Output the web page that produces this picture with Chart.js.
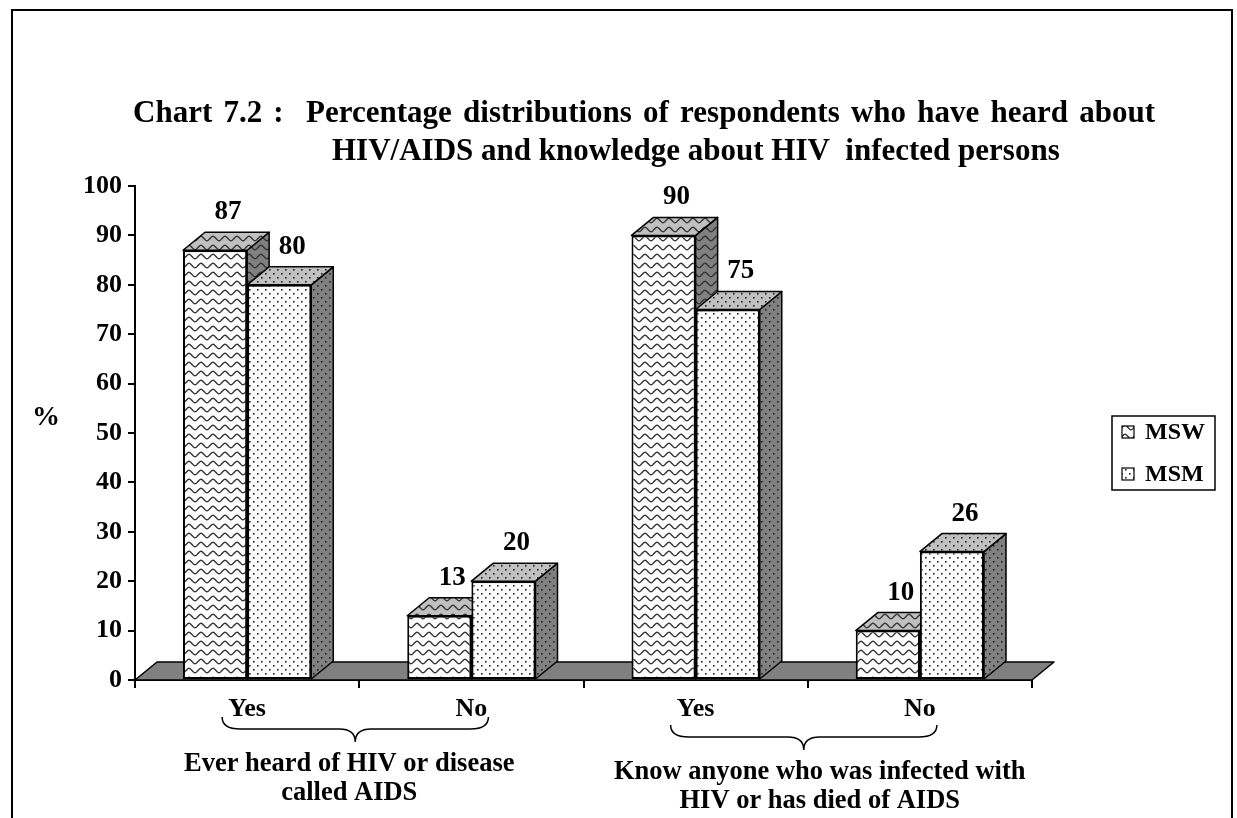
<!DOCTYPE html>
<html>
<head>
<meta charset="utf-8">
<script src="https://cdn.jsdelivr.net/npm/chart.js@4.4.0/dist/chart.umd.min.js"></script>
<style>
  html, body { margin: 0; padding: 0; background: #fff; }
</style>
</head>
<body>
<canvas id="chart" width="1237" height="818"></canvas>
<script>
// chart data
const categories = ['Yes', 'No', 'Yes', 'No'];
const seriesNames = ['MSW', 'MSM'];
const mswValues = [87, 13, 90, 10];
const msmValues = [80, 20, 75, 26];
const groupLabels = [
  ['Ever heard of HIV or disease', 'called AIDS'],
  ['Know anyone who was infected with', 'HIV or has died of AIDS']
];
const titleLine1 = 'Chart 7.2 :  Percentage distributions of respondents who have heard about';
const titleLine2 = 'HIV/AIDS and knowledge about HIV  infected persons';
const yAxisLabel = '%';

const FONT = '"Liberation Serif", "Times New Roman", serif';
const DX = 22, DY = -18;   // 3d depth offset

function makePattern(kind, bg) {
  const c = document.createElement('canvas');
  const g = c.getContext('2d');
  if (kind === 'wave') {
    c.width = 12; c.height = 9;
    g.fillStyle = bg; g.fillRect(0, 0, 12, 9);
    g.strokeStyle = '#333'; g.lineWidth = 1.4;
    g.beginPath();
    for (let x = -1; x <= 13; x += 0.5) {
      const y = 4.5 + 2.2 * Math.sin(x / 12 * Math.PI * 2);
      if (x === -1) g.moveTo(x, y); else g.lineTo(x, y);
    }
    g.stroke();
  } else {
    c.width = 8; c.height = 8;
    g.fillStyle = bg; g.fillRect(0, 0, 8, 8);
    g.fillStyle = '#222';
    g.fillRect(1, 1, 1.6, 1.6);
    g.fillRect(5, 5, 1.6, 1.6);
  }
  return g.createPattern(c, 'repeat');
}

const kinds = ['wave', 'dots'];
const frontPatterns = kinds.map(k => makePattern(k, '#fff'));
const topPatterns = kinds.map(k => makePattern(k, '#c0c0c0'));
const sidePatterns = kinds.map(k => makePattern(k, '#808080'));

function poly(ctx, pts, fill) {
  ctx.beginPath();
  pts.forEach((p, i) => i ? ctx.lineTo(p[0], p[1]) : ctx.moveTo(p[0], p[1]));
  ctx.closePath();
  ctx.fillStyle = fill;
  ctx.fill();
  ctx.stroke();
}

function brace(ctx, xL, xR, xc, yTop) {
  const yMid = yTop + 12, yTip = yTop + 25;
  ctx.beginPath();
  ctx.moveTo(xL, yTop);
  ctx.quadraticCurveTo(xL, yMid, xL + 18, yMid);
  ctx.lineTo(xc - 16, yMid);
  ctx.quadraticCurveTo(xc, yMid, xc, yTip);
  ctx.quadraticCurveTo(xc, yMid, xc + 16, yMid);
  ctx.lineTo(xR - 18, yMid);
  ctx.quadraticCurveTo(xR, yMid, xR, yTop);
  ctx.stroke();
}

const bar3d = {
  id: 'bar3d',
  beforeDatasetsDraw(chart) {
    const ctx = chart.ctx;
    const { left, right, bottom } = chart.chartArea;
    ctx.save();
    ctx.strokeStyle = '#000';
    ctx.lineWidth = 1.5;
    ctx.lineJoin = 'round';
    // floor
    poly(ctx, [[left, bottom], [right, bottom], [right + DX, bottom + DY], [left + DX, bottom + DY]], '#808080');
    // side and top faces, left series first
    const metas = chart.data.datasets.map((d, i) => chart.getDatasetMeta(i));
    for (let j = 0; j < categories.length; j++) {
      metas.forEach((meta, i) => {
        const b = meta.data[j].getProps(['x', 'y', 'base', 'width'], true);
        const x0 = b.x - b.width / 2, x1 = b.x + b.width / 2;
        poly(ctx, [[x1, b.y], [x1 + DX, b.y + DY], [x1 + DX, b.base + DY], [x1, b.base]], sidePatterns[i]);
        poly(ctx, [[x0, b.y], [x0 + DX, b.y + DY], [x1 + DX, b.y + DY], [x1, b.y]], topPatterns[i]);
      });
    }
    ctx.restore();
  },
  afterDatasetsDraw(chart) {
    const ctx = chart.ctx;
    ctx.save();
    ctx.fillStyle = '#000';
    ctx.font = 'bold 27px ' + FONT;
    ctx.textAlign = 'center';
    ctx.textBaseline = 'middle';
    chart.data.datasets.forEach((ds, i) => {
      chart.getDatasetMeta(i).data.forEach((bar, j) => {
        ctx.fillText(String(ds.data[j]), bar.x + 13, bar.y + DY - 20);
      });
    });
    ctx.restore();
  },
  afterDraw(chart) {
    const ctx = chart.ctx;
    const xs = chart.scales.x;
    ctx.save();
    ctx.fillStyle = '#000';
    ctx.strokeStyle = '#000';

    // outer frame
    ctx.lineWidth = 2;
    ctx.strokeRect(12, 10, 1220, 830);

    // title, first line justified between 133 and 1155
    ctx.font = 'bold 31px ' + FONT;
    ctx.textBaseline = 'alphabetic';
    ctx.textAlign = 'left';
    const words = titleLine1.split(' ');
    const used = words.reduce((s, w) => s + ctx.measureText(w).width, 0);
    const gap = (1155 - 133 - used) / (words.length - 1);
    let tx = 133;
    words.forEach(w => { ctx.fillText(w, tx, 122); tx += ctx.measureText(w).width + gap; });
    ctx.fillText(titleLine2, 332, 160);

    // y axis title
    ctx.font = 'bold 28px ' + FONT;
    ctx.textAlign = 'center';
    ctx.textBaseline = 'middle';
    ctx.fillText(yAxisLabel, 46, 418);

    // braces and group labels
    ctx.lineWidth = 1.5;
    ctx.font = 'bold 26.5px ' + FONT;
    groupLabels.forEach((lines, g) => {
      const c0 = xs.getPixelForValue(g * 2), c1 = xs.getPixelForValue(g * 2 + 1);
      const mid = (c0 + c1) / 2;
      const yTop = 717 + g * 8;
      brace(ctx, c0 - 25, c1 + 17, mid - 4, yTop);
      const lx = mid + (g === 0 ? -10 : 12);
      lines.forEach((t, k) => ctx.fillText(t, lx, yTop + 47 + k * 29));
    });

    // legend
    ctx.lineWidth = 1.5;
    ctx.strokeRect(1112, 416, 103, 74);
    ctx.font = 'bold 24px ' + FONT;
    ctx.textAlign = 'left';
    seriesNames.forEach((name, i) => {
      const cy = 432 + i * 42;
      ctx.fillStyle = frontPatterns[i];
      ctx.fillRect(1122, cy - 6, 12, 12);
      ctx.lineWidth = 1.2;
      ctx.strokeRect(1122, cy - 6, 12, 12);
      ctx.fillStyle = '#000';
      ctx.fillText(name, 1145, cy + 1);
    });
    ctx.restore();
  }
};

const tickFont = { family: FONT, size: 26, weight: 'bold' };

new Chart(document.getElementById('chart'), {
  type: 'bar',
  data: {
    labels: categories,
    datasets: [
      { label: seriesNames[0], data: mswValues, backgroundColor: frontPatterns[0] },
      { label: seriesNames[1], data: msmValues, backgroundColor: frontPatterns[1] }
    ].map(d => Object.assign(d, {
      borderColor: '#000', borderWidth: 2, borderSkipped: false,
      categoryPercentage: 0.572, barPercentage: 1
    }))
  },
  options: {
    responsive: false,
    animation: false,
    layout: { padding: { left: 0, top: 186, right: 205, bottom: 0 } },
    plugins: { legend: { display: false }, tooltip: { enabled: false } },
    scales: {
      x: {
        grid: { offset: true, drawOnChartArea: false, color: '#000', lineWidth: 2, tickLength: 8 },
        border: { color: '#000', width: 2 },
        ticks: { color: '#000', font: tickFont, padding: 6 },
        afterFit: s => { s.height = 138; }
      },
      y: {
        min: 0, max: 100,
        ticks: { stepSize: 10, color: '#000', font: tickFont, padding: 6 },
        grid: { drawOnChartArea: false, color: '#000', lineWidth: 2, tickLength: 7 },
        border: { color: '#000', width: 2 },
        afterFit: s => { s.width = 135; }
      }
    }
  },
  plugins: [bar3d]
});
</script>
</body>
</html>
